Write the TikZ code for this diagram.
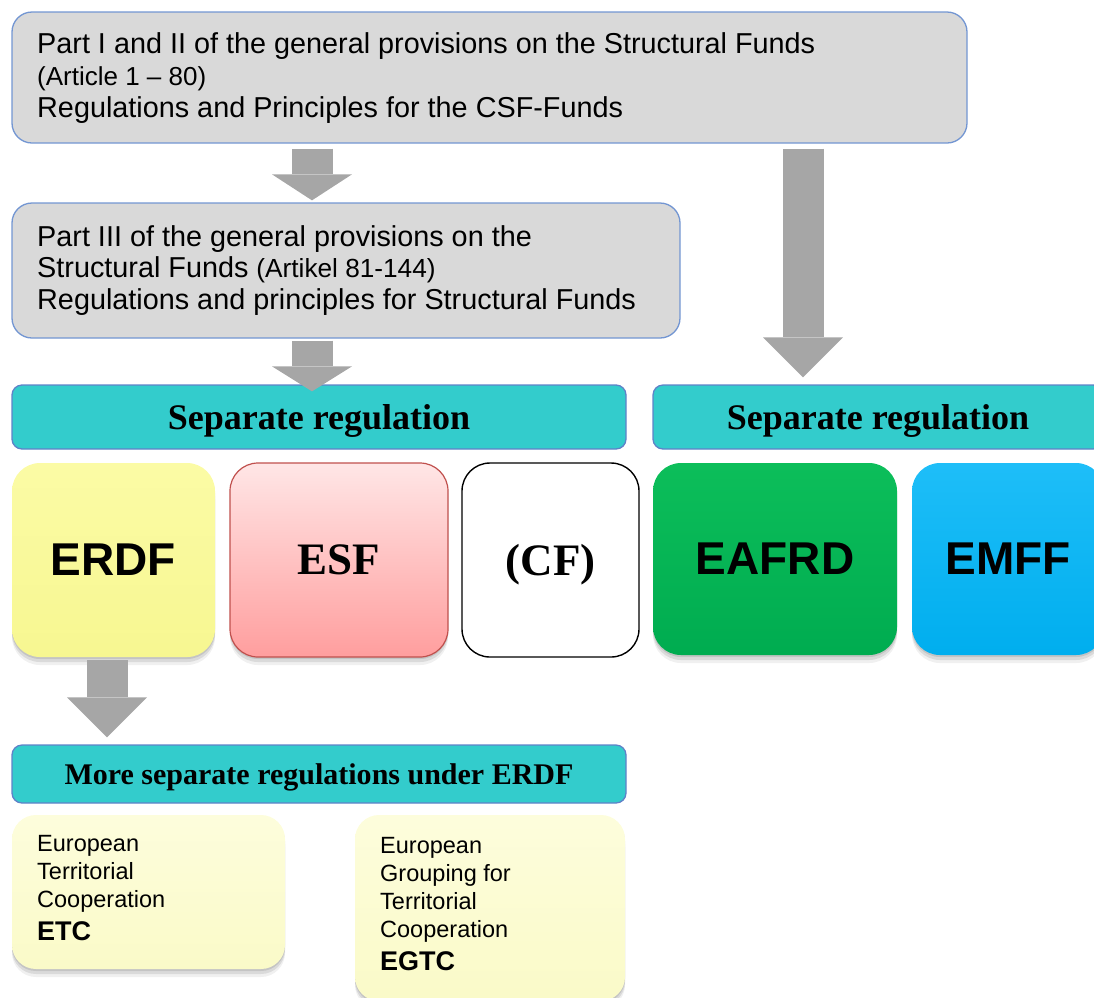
\documentclass[tikz,border=0pt]{standalone}
\usepackage{fontspec}
\setmainfont{Liberation Sans}
\newfontfamily\hdrfont{Liberation Serif}
\usetikzlibrary{arrows.meta,calc,shadows}
\definecolor{boxgray}{RGB}{217,217,217}
\definecolor{boxblue}{RGB}{115,150,210}
\definecolor{hdrteal}{RGB}{51,204,204}
\definecolor{hdrline}{RGB}{95,130,200}
\definecolor{arrgray}{RGB}{166,166,166}
\definecolor{erdftop}{RGB}{251,251,165}
\definecolor{erdfbot}{RGB}{247,247,145}
\definecolor{esftop}{RGB}{255,230,230}
\definecolor{esfbot}{RGB}{255,158,158}
\definecolor{esfline}{RGB}{192,80,77}
\definecolor{eaftop}{RGB}{12,190,90}
\definecolor{eafbot}{RGB}{0,172,80}
\definecolor{emftop}{RGB}{30,190,248}
\definecolor{emfbot}{RGB}{0,174,238}
\definecolor{ltyel}{RGB}{250,250,200}
\definecolor{ltyeltop}{RGB}{253,253,220}
\begin{document}
\begin{tikzpicture}[x=1pt,y=-1pt,
  graybox/.style={draw=boxblue,line width=1.3pt,fill=boxgray,rounded corners=20pt,inner sep=0pt},
  hdr/.style={draw=hdrline,line width=1.3pt,fill=hdrteal,rounded corners=10pt,inner sep=0pt,text depth=0pt,font=\hdrfont\bfseries\fontsize{36}{40}\selectfont},
  softshadow/.style={
    drop shadow={shadow xshift=0pt,shadow yshift=-2pt,opacity=0.10,fill=black},
    drop shadow={shadow xshift=0pt,shadow yshift=-5pt,opacity=0.09,fill=black},
    drop shadow={shadow xshift=0pt,shadow yshift=-8pt,opacity=0.06,fill=black}},
  fundbox/.style={rounded corners=28pt,inner sep=0pt,minimum height=194pt,text depth=0pt},
  sansbig/.style={font=\bfseries\fontsize{46}{50}\selectfont},
  serifbig/.style={font=\hdrfont\bfseries\fontsize{45}{50}\selectfont},
  smallbox/.style={rounded corners=24pt,inner sep=0pt,top color=ltyeltop,bottom color=ltyel,softshadow},
  bodytext/.style={anchor=west,align=left,inner sep=0pt,font=\fontsize{28.8}{31.8}\selectfont},
  smalltext/.style={anchor=west,align=left,inner sep=0pt,font=\fontsize{23.5}{27.8}\selectfont},
  blk/.style={draw=arrgray,line width=41pt,-{Triangle[width=80pt 0 0,length=#1 0 0,line width=0pt 0 0,fill=arrgray]}},
  blk/.default=40pt
]
\clip (0,0) rectangle (1094,997);
% grey boxes
\node[graybox,minimum width=955pt,minimum height=131pt] (box1) at (489.5,77.5) {};
\node[bodytext] (t1) at (37,78) {Part I and II of the general provisions on the Structural Funds\\
{\fontsize{26}{31.8}\selectfont (Article 1 – 80)}\\
Regulations and Principles for the CSF-Funds};
\node[graybox,minimum width=668pt,minimum height=135pt] (box2) at (346,270.5) {};
\node[bodytext] (t2) at (37,270.5) {Part III of the general provisions on the\\
Structural Funds {\fontsize{26.2}{31.8}\selectfont (Artikel 81-144)}\\
Regulations and principles for Structural Funds};
% headers
\node[hdr,minimum width=614pt,minimum height=64pt] (hdr1) at (319,417) {Separate regulation};
\node[hdr,minimum width=450pt,minimum height=64pt] (hdr2) at (878,417) {Separate regulation};
% funds
\node[fundbox,softshadow,sansbig,minimum width=203pt,top color=erdftop,bottom color=erdfbot] (erdf) at (113.5,560) {ERDF};
\node[fundbox,softshadow,serifbig,minimum width=218pt,top color=esftop,bottom color=esfbot,draw=esfline,line width=1.2pt] (esf) at (339,560) {ESF};
\node[fundbox,serifbig,minimum width=177pt,fill=white,draw=black,line width=1.4pt] (cf) at (550.5,560) {(CF)};
\node[fundbox,softshadow,sansbig,minimum width=244pt,minimum height=192pt,top color=eaftop,bottom color=eafbot] (eafrd) at (775,559) {EAFRD};
\node[fundbox,softshadow,sansbig,minimum width=192pt,minimum height=192pt,top color=emftop,bottom color=emfbot] (emff) at (1008,559) {EMFF};
% more separate regulations
\node[hdr,minimum width=614pt,minimum height=58pt,font=\hdrfont\bfseries\fontsize{30}{34}\selectfont] (hdr3) at (319,774) {More separate regulations under ERDF};
\node[smallbox,minimum width=273pt,minimum height=154pt] (etc) at (148.5,892) {};
\node[smalltext] (etctext) at (37,888) {European\\Territorial\\Cooperation\\[5pt]{\bfseries\fontsize{27}{30}\selectfont ETC}};
\node[smallbox,minimum width=270pt,minimum height=186pt] (egtc) at (490,908) {};
\node[smalltext] (egtctext) at (380,904) {European\\Grouping for\\Territorial\\Cooperation\\[5pt]{\bfseries\fontsize{27}{30}\selectfont EGTC}};
% block arrows
\coordinate (xa) at (312,0);
\coordinate (xb) at (803,0);
\coordinate (xc) at (107,0);
\draw[blk=26pt] ($(box1.south -| xa)+(0,5)$) -- ($(box2.north -| xa)+(0,-2)$);
\draw[blk=25pt] ($(box2.south -| xa)+(0,2)$) -- ($(hdr1.north -| xa)+(0,7)$);
\draw[blk=40pt] ($(box1.south -| xb)+(0,5)$) -- ($(hdr2.north -| xb)+(0,-7)$);
\draw[blk=40pt] ($(erdf.south -| xc)+(0,3)$) -- ($(hdr3.north -| xc)+(0,-7)$);
\end{tikzpicture}
\end{document}
